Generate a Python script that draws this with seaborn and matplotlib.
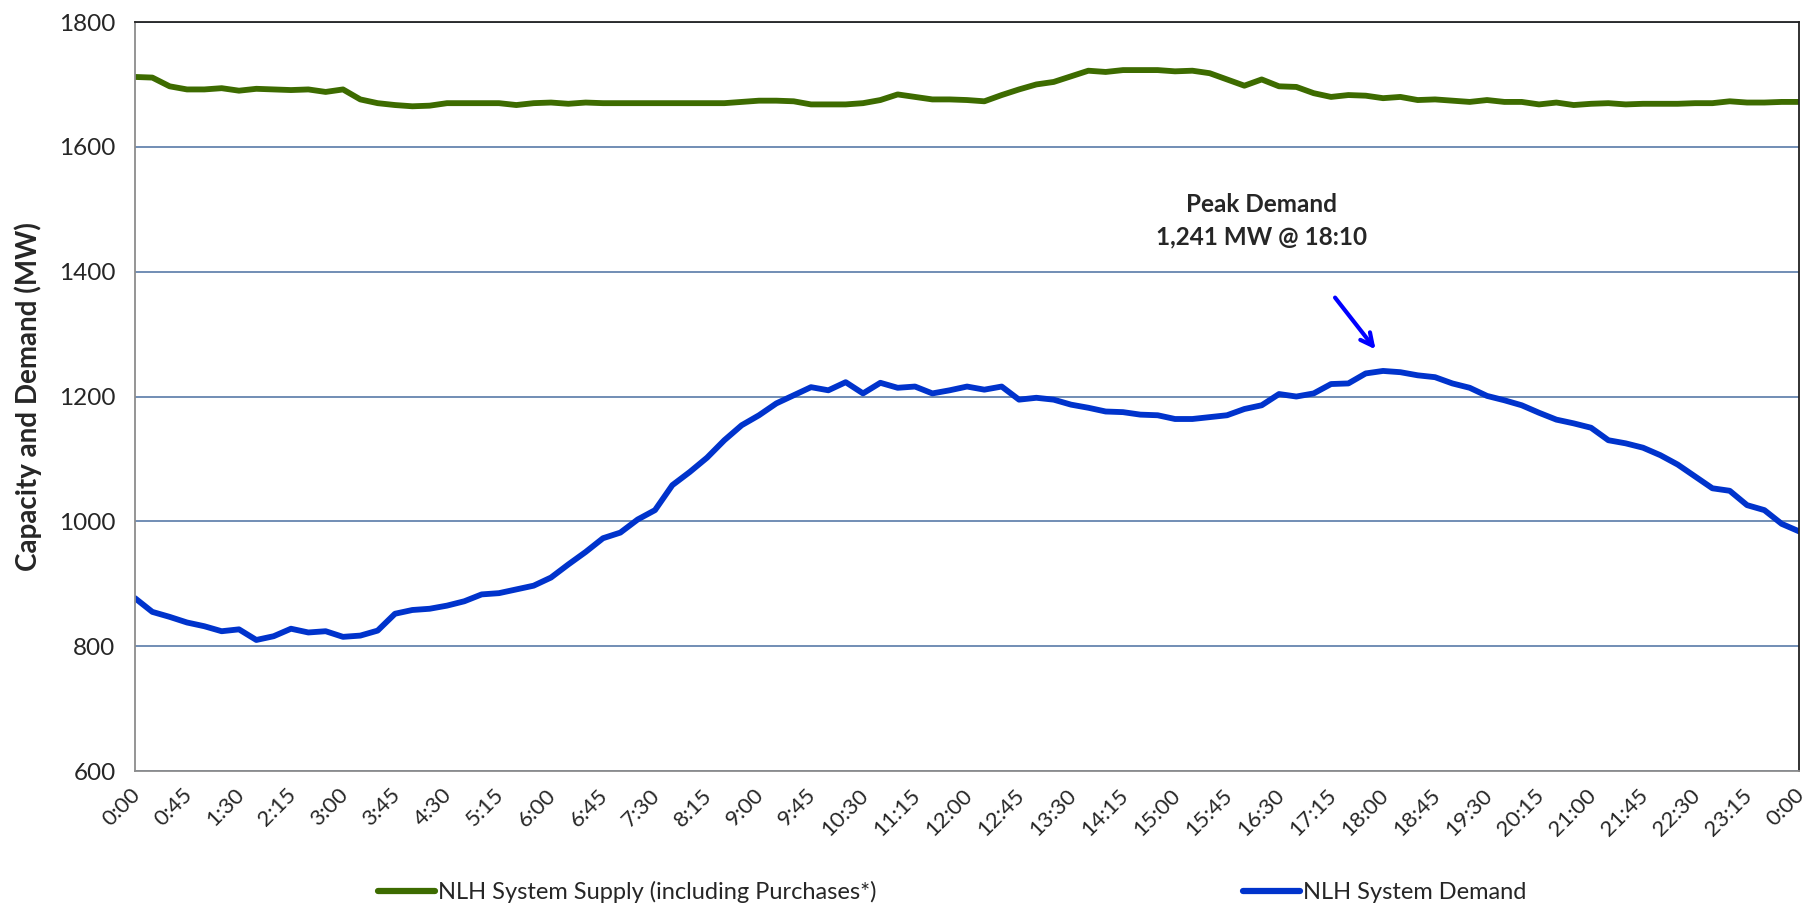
import numpy as np
import pandas as pd
import matplotlib
matplotlib.use("Agg")
import matplotlib.pyplot as plt
import matplotlib.transforms as mtransforms
import seaborn as sns
from matplotlib.ticker import MultipleLocator

# minutes after midnight, every 15 min
minutes = list(range(0, 1441, 15))

supply = [1712, 1711, 1697, 1692, 1692, 1694, 1690, 1693, 1692, 1691, 1692, 1688, 1692,
          1676, 1670, 1667, 1665, 1666, 1670, 1670, 1670, 1670, 1667, 1670, 1671, 1669,
          1671, 1670, 1670, 1670, 1670, 1670, 1670, 1670, 1670, 1672, 1674, 1674, 1673,
          1668, 1668, 1668, 1670, 1675, 1684, 1680, 1676, 1676, 1675, 1673, 1683, 1692,
          1700, 1704, 1713, 1722, 1720, 1723, 1723, 1723, 1721, 1722, 1718, 1708, 1698,
          1708, 1697, 1696, 1686, 1680, 1683, 1682, 1678, 1680, 1675, 1676, 1674, 1672,
          1675, 1672, 1672, 1668, 1671, 1667, 1669, 1670, 1668, 1669, 1669, 1669, 1670,
          1670, 1673, 1671, 1671, 1672, 1672]

demand = [877, 855, 847, 838, 832, 824, 827, 810, 816, 828, 822, 824, 815, 817, 825, 852,
          858, 860, 865, 872, 883, 885, 891, 897, 910, 931, 951, 973, 982, 1003, 1018,
          1058, 1079, 1102, 1130, 1154, 1170, 1189, 1202, 1215, 1210, 1223, 1205, 1222,
          1214, 1216, 1205, 1210, 1216, 1211, 1216, 1195, 1198, 1195, 1187, 1182, 1176,
          1175, 1171, 1170, 1164, 1164, 1167, 1170, 1180, 1186, 1204, 1200, 1205, 1220,
          1221, 1237, 1241, 1239, 1234, 1231, 1221, 1214, 1201, 1194, 1186, 1174, 1163,
          1157, 1150, 1130, 1125, 1118, 1106, 1091, 1072, 1053, 1049, 1026, 1018, 996, 984]

series_names = ["NLH System Supply (including Purchases*)", "NLH System Demand"]
series_colors = ["#3D6B00", "#0033CC"]

tick_minutes = list(range(0, 1441, 45))
tick_labels = [f"{(m // 60) % 24}:{m % 60:02d}" for m in tick_minutes]

df = pd.DataFrame({
    "minute": minutes * 2,
    "MW": supply + demand,
    "series": [series_names[0]] * len(minutes) + [series_names[1]] * len(minutes),
})

sns.set_style("white")
plt.rcParams["font.family"] = ["Lato", "DejaVu Sans"]

fig = plt.figure(figsize=(18.07, 9.10), dpi=100)
ax = fig.add_axes([0.0747, 0.1527, 0.9209, 0.8231])

sns.lineplot(data=df, x="minute", y="MW", hue="series", palette=series_colors,
             linewidth=4.2, ax=ax, legend=False)

ax.set_xlim(0, 1440)
ax.set_ylim(600, 1800)
ax.set_yticks(range(600, 1801, 200))
ax.yaxis.grid(True, color="#4A6FA0", linewidth=1.1)
ax.set_axisbelow(True)

ax.set_xticks(tick_minutes)
ax.set_xticklabels(tick_labels, rotation=45, ha="right", rotation_mode="anchor")
ax.xaxis.set_minor_locator(MultipleLocator(5))
ax.tick_params(axis="x", which="both", direction="out", length=6, width=1,
               color="#8C8C8C", labelsize=16, pad=4)
ax.tick_params(axis="y", direction="out", length=6, width=1, color="#8C8C8C",
               labelsize=17.5, pad=8)
shift = mtransforms.ScaledTranslation(-5 / 100, 0, fig.dpi_scale_trans)
for lab in ax.get_xticklabels():
    lab.set_transform(lab.get_transform() + shift)

for side in ["left", "bottom"]:
    ax.spines[side].set_color("#8C8C8C")
    ax.spines[side].set_linewidth(1.3)
for side in ["top", "right"]:
    ax.spines[side].set_color("#222222")
    ax.spines[side].set_linewidth(1.3)

ax.set_xlabel("")
ax.set_ylabel("Capacity and Demand (MW)", fontsize=20, fontweight="bold", labelpad=12)

ax.text(975, 1481, "Peak Demand\n1,241 MW @ 18:10", ha="center", va="center",
        fontsize=17.5, fontweight="bold", linespacing=1.5)
ax.annotate("", xy=(1075, 1272), xytext=(1037, 1362),
            arrowprops=dict(arrowstyle="->", color="#0000FF", lw=3, mutation_scale=22))

handles = [plt.Line2D([], [], color=c, linewidth=4.5) for c in series_colors]
fig.legend(handles, series_names, loc="center", bbox_to_anchor=(0.527, 0.02),
           ncol=2, frameon=False, fontsize=17, handlelength=2.4, handletextpad=0.15,
           columnspacing=15.5)

fig.savefig("out.png", dpi=100)
